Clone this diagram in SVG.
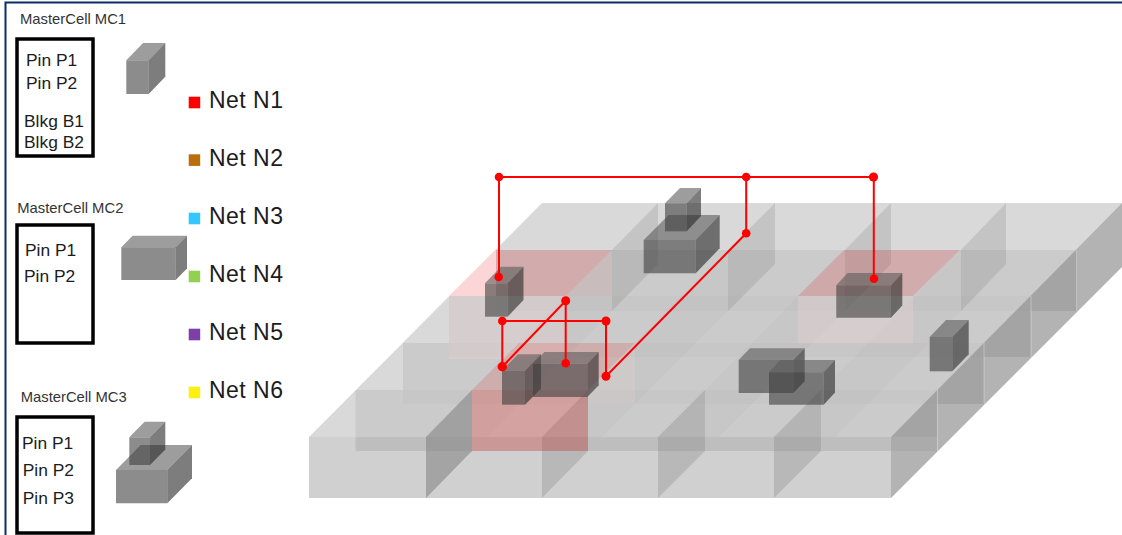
<svg xmlns="http://www.w3.org/2000/svg" width="1122" height="535" viewBox="0 0 1122 535">
<style>
text{font-family:"Liberation Sans",Arial,sans-serif;fill:#1c1c1c}
.t{font-size:14.8px;fill:#333}
.p{font-size:17.4px}
.n{font-size:23px}
.box{fill:#fff;stroke:#000;stroke-width:3.5}
.face{fill:#808080;fill-opacity:.16}
.lap{fill:#808080;fill-opacity:.06}
.wb{fill:#808080;fill-opacity:.24}
.wf{fill:#808080;fill-opacity:.05}
.we{fill:#808080;fill-opacity:.6}
.a{fill:#3f3f3f;fill-opacity:.6}
.b{fill:#5c5c5c;fill-opacity:.6}
.c{fill:#262626;fill-opacity:.6}
.w{fill:none;stroke:#f00;stroke-width:2}
.d{fill:#f00}
.pale{fill:#e6d2d2;fill-opacity:.4}
</style>
<rect width="1122" height="535" fill="#fff"/>
<path d="M5.5 535V2.5H1122" fill="none" stroke="#0f2a6b" stroke-width="2"/>

<g id="mc1-label"><text class="t" x="20" y="24.3">MasterCell MC1</text></g>
<g id="mc1-box"><rect class="box" x="17" y="39" width="76" height="117"/>
<text class="p" x="26" y="65.7">Pin P1</text><text class="p" x="26" y="89">Pin P2</text>
<text class="p" x="24" y="126.7">Blkg B1</text><text class="p" x="24" y="148">Blkg B2</text></g>
<g id="mc1-cell">
<polygon class="a" points="126.3,60.3 148.7,60.3 148.7,94 126.3,94"/>
<polygon class="b" points="126.3,60.3 143,43 165.3,43 148.7,60.3"/>
<polygon class="c" points="148.7,60.3 165.3,43 165.3,76.7 148.7,94"/></g>

<g id="mc2-label"><text class="t" x="17.3" y="212.7">MasterCell MC2</text></g>
<g id="mc2-box"><rect class="box" x="17" y="225" width="76" height="118"/>
<text class="p" x="25" y="255.7">Pin P1</text><text class="p" x="24" y="281.7">Pin P2</text></g>
<g id="mc2-cell">
<polygon class="a" points="121.3,247.3 175.7,247.3 175.7,280 121.3,280"/>
<polygon class="b" points="121.3,247.3 132.6,235.7 187,235.7 175.7,247.3"/>
<polygon class="c" points="175.7,247.3 187,235.7 187,268.4 175.7,280"/></g>

<g id="mc3-label"><text class="t" x="20.7" y="402.3">MasterCell MC3</text></g>
<g id="mc3-box"><rect class="box" x="17" y="417" width="76" height="116"/>
<text class="p" x="22" y="449">Pin P1</text><text class="p" x="22.7" y="476.3">Pin P2</text><text class="p" x="22.7" y="503.7">Pin P3</text></g>
<g id="mc3-cell">
<polygon class="a" points="116,470 167.3,470 167.3,503.3 116,503.3"/>
<polygon class="b" points="116,470 140.7,445 192,445 167.3,470"/>
<polygon class="c" points="167.3,470 192,445 192,478.3 167.3,503.3"/>
<polygon class="a" points="129.3,437.3 150,437.3 150,465 129.3,465"/>
<polygon class="b" points="129.3,437.3 144.6,421.7 165.3,421.7 150,437.3"/>
<polygon class="c" points="150,437.3 165.3,421.7 165.3,449.4 150,465"/></g>

<g id="net-n1"><rect x="188.7" y="96.7" width="11.5" height="11.6" fill="#f00"/><text class="n" x="209" y="108.3" textLength="74">Net N1</text></g>
<g id="net-n2"><rect x="188.7" y="154.3" width="11.5" height="11.6" fill="#b86e09"/><text class="n" x="209" y="165.7" textLength="74">Net N2</text></g>
<g id="net-n3"><rect x="188.7" y="212.7" width="11.5" height="11.6" fill="#33c7ff"/><text class="n" x="209" y="223.7" textLength="74">Net N3</text></g>
<g id="net-n4"><rect x="188.7" y="270.7" width="11.5" height="11.6" fill="#92d050"/><text class="n" x="209" y="282" textLength="74">Net N4</text></g>
<g id="net-n5"><rect x="188.7" y="328.7" width="11.5" height="11.6" fill="#7f3fa8"/><text class="n" x="209" y="340" textLength="74">Net N5</text></g>
<g id="net-n6"><rect x="188.7" y="386.7" width="11.5" height="11.6" fill="#ffee11"/><text class="n" x="209" y="397.7" textLength="74">Net N6</text></g>

<g id="grid">
<polygon points="309,437 891,437 1122,203 542,203" fill="#d9d9d9"/>
<rect class="face" x="496" y="250" width="581" height="61"/>
<path class="wb" d="M612 250L658 203V264L612 311ZM728 250L775 203V264L728 311ZM845 250L891 203V264L845 311ZM961 250L1006 203V264L961 311Z"/>
<path class="face" d="M449 296H496V311H1031V357H449Z"/><rect class="lap" x="496" y="296" width="535" height="15"/>
<path class="wf" d="M566 296L612 250V311L566 357ZM682 296L728 250V311L682 357ZM798 296L845 250V311L798 357ZM915 296L961 250V311L915 357Z"/>
<path class="face" d="M403 343H449V357H984V404H403Z"/><rect class="lap" x="449" y="343" width="535" height="14"/>
<path class="wf" d="M519 343L566 296V357L519 404ZM635 343L682 296V357L635 404ZM752 343L798 296V357L752 404ZM868 343L915 296V357L868 404Z"/>
<path class="face" d="M355.5 390H403V404H937.5V437H355.5Z"/><rect class="lap" x="403" y="390" width="534.5" height="14"/>
<path class="wf" d="M472 390L519 343V404L472 451ZM588 390L635 343V404L588 451ZM705 390L752 343V404L705 451ZM821 390L868 343V404L821 451Z"/>
<rect x="309" y="437" width="582" height="61" fill="#d0d0d0"/>
<rect x="355.5" y="437" width="535.5" height="14" fill="#bebebe"/>
<path class="wb" d="M542 437L588 390V451L542 498ZM658 437L705 390V451L658 498ZM774 437L821 390V451L774 498Z" style="fill-opacity:.3"/>
<path d="M426 437L472 390V451L426 498Z" fill="#808080" fill-opacity=".55"/>
<path class="we" d="M891 437L1122 203V267L891 498Z"/>
<path class="face" d="M891 451L937 451V390L891 437ZM937 404H984V343L937 390ZM984 357H1031V296L984 343ZM1031 311H1077V250L1031 296Z"/>
<path d="M937.5 390V451M984 343V404M1031 296V357M1076.5 250V311" stroke="#fff" stroke-opacity=".45" stroke-width=".7" fill="none"/>
</g>

<g id="pins">
<polygon points="496,250 449,296 496,296" fill="#fcd6d6"/>
<polygon points="496,250 612,250 566,296 496,296" fill="#f00" fill-opacity=".15"/>
<polygon class="pale" points="449,296 566,296 566,359 449,359"/>
<polygon points="612,250 566,296 612,296" fill="#f00" fill-opacity=".05"/>
<polygon points="519,343 635,343 588,390 472,390" fill="#f00" fill-opacity=".13"/>
<polygon class="pale" points="588,390 635,343 635,404 588,404" style="fill-opacity:.25"/>
<rect x="472" y="390" width="116" height="61" fill="#f00" fill-opacity=".2"/>
<polygon points="844,250 960,250 913,296 798,296" fill="#f00" fill-opacity=".15"/>
<polygon class="pale" points="798,296 913,296 913,343 798,343"/>
</g>

<g id="inst-a">
<polygon class="a" points="485,283.3 507.5,283.3 507.5,316.7 485,316.7"/>
<polygon class="b" points="485,283.3 501,266.7 523.5,266.7 507.5,283.3"/>
<polygon class="c" points="507.5,283.3 523.5,266.7 523.5,300 507.5,316.7"/></g>
<g id="inst-b">
<polygon class="a" points="643.7,240 695.7,240 695.7,273.3 643.7,273.3"/>
<polygon class="b" points="643.7,240 668.7,215 719.7,215 695.7,240"/>
<polygon class="c" points="695.7,240 719.7,215 719.7,248.3 695.7,273.3"/>
<polygon class="a" points="665,203.3 686.7,203.3 686.7,231.3 665,231.3"/>
<polygon class="b" points="665,203.3 680,188 701,188 686.7,203.3"/>
<polygon class="c" points="686.7,203.3 701,188 701,216 686.7,231.3"/></g>
<g id="inst-c">
<polygon class="a" points="502,370.7 525,370.7 525,404.7 502,404.7"/>
<polygon class="b" points="502,370.7 518,354.3 541,354.3 525,370.7"/>
<polygon class="c" points="525,370.7 541,354.3 541,388.4 525,404.7"/></g>
<g id="inst-d">
<polygon class="a" points="533,363.7 587.3,363.7 587.3,397 533,397"/>
<polygon class="b" points="533,363.7 544.5,352 598.7,352 587.3,363.7"/>
<polygon class="c" points="587.3,363.7 598.7,352 598.7,385.3 587.3,397"/></g>
<g id="inst-e">
<polygon class="a" points="836.3,285.3 891,285.3 891,317.7 836.3,317.7"/>
<polygon class="b" points="836.3,285.3 847.6,273 902.3,273 891,285.3"/>
<polygon class="c" points="891,285.3 902.3,273 902.3,305.4 891,317.7"/></g>
<g id="inst-f">
<polygon class="a" points="738.7,360 793.3,360 793.3,393 738.7,393"/>
<polygon class="b" points="738.7,360 750,348.3 804.7,348.3 793.3,360"/>
<polygon class="c" points="793.3,360 804.7,348.3 804.7,381.3 793.3,393"/></g>
<g id="inst-g">
<polygon class="a" points="769,372.3 823.7,372.3 823.7,404.7 769,404.7"/>
<polygon class="b" points="769,372.3 780.3,360 835,360 823.7,372.3"/>
<polygon class="c" points="823.7,372.3 835,360 835,392.4 823.7,404.7"/></g>
<g id="inst-h">
<polygon class="a" points="929.7,337 952.3,337 952.3,371.3 929.7,371.3"/>
<polygon class="b" points="929.7,337 946,320 968.7,320 952.3,337"/>
<polygon class="c" points="952.3,337 968.7,320 968.7,354.3 952.3,371.3"/></g>

<g id="connectors">
<path class="w" d="M499 277V177H873.5M873.8 177V278.7M746.2 177V233.3L606 376.3V321H502.3V366.7L565.7 300.7V363.3"/>
<circle class="d" cx="499" cy="177" r="4.3"/><circle class="d" cx="746.2" cy="177" r="4.3"/><circle class="d" cx="873.5" cy="177" r="4.6"/>
<circle class="d" cx="498.7" cy="277" r="4.3"/><circle class="d" cx="746.2" cy="233.3" r="4.3"/><circle class="d" cx="874" cy="278.7" r="4.3"/>
<circle class="d" cx="565.7" cy="300.7" r="4.5"/><circle class="d" cx="502.3" cy="321" r="4.3"/><circle class="d" cx="606" cy="321" r="4.5"/>
<circle class="d" cx="502.3" cy="366.7" r="4.7"/><circle class="d" cx="565.7" cy="363.3" r="4.3"/><circle class="d" cx="606" cy="376.3" r="4.5"/>
</g>
</svg>
